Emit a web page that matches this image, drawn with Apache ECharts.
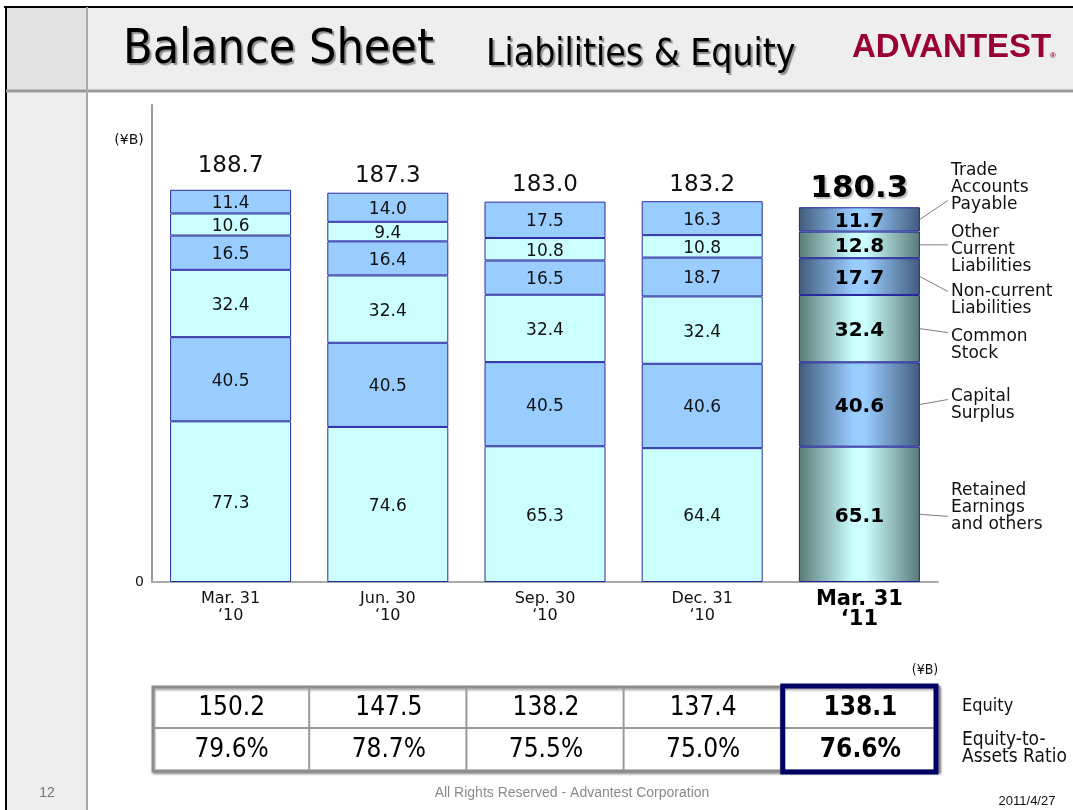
<!DOCTYPE html>
<html>
<head>
<meta charset="utf-8">
<script src="https://cdn.jsdelivr.net/npm/echarts@6/dist/echarts.min.js"></script>
<style>html,body{margin:0;padding:0;background:#fff}#c{width:1073px;height:810px}</style>
</head>
<body>
<div id="c"></div>
<script>
// ---- data ----
const categories = ['Mar. 31\n‘10', 'Jun. 30\n‘10', 'Sep. 30\n‘10', 'Dec. 31\n‘10', 'Mar. 31\n‘11'];
const retainedEarnings = [77.3, 74.6, 65.3, 64.4, 65.1];
const capitalSurplus = [40.5, 40.5, 40.5, 40.6, 40.6];
const commonStock = [32.4, 32.4, 32.4, 32.4, 32.4];
const nonCurrentLiab = [16.5, 16.4, 16.5, 18.7, 17.7];
const otherCurrentLiab = [10.6, 9.4, 10.8, 10.8, 12.8];
const tradePayable = [11.4, 14.0, 17.5, 16.3, 11.7];
const totals = [188.7, 187.3, 183.0, 183.2, 180.3];
const equity = [150.2, 147.5, 138.2, 137.4, 138.1];
const equityRatio = [79.6, 78.7, 75.5, 75.0, 76.6];
const segmentNames = [
  ['Retained', 'Earnings', 'and others'],
  ['Capital', 'Surplus'],
  ['Common', 'Stock'],
  ['Non-current', 'Liabilities'],
  ['Other', 'Current', 'Liabilities'],
  ['Trade', 'Accounts', 'Payable']
];

const FONT = '"DejaVu Sans", Verdana, sans-serif';
const COND = '"DejaVu Sans Condensed", "Liberation Sans Narrow", sans-serif';
const CYAN = '#ccffff', BLUE = '#99ccff';
const CYAN_D = '#587a77', BLUE_D = '#405c7c';
const last = categories.length - 1;

function grad(dark, light) {
  return {type: 'linear', x: 0, y: 0, x2: 1, y2: 0, colorStops: [
    {offset: 0, color: dark}, {offset: 0.45, color: light}, {offset: 0.55, color: light}, {offset: 1, color: dark}]};
}

function mkSeries(name, vals, light, dark) {
  return {
    name, type: 'bar', stack: 'bs', barWidth: 121,
    itemStyle: {color: light, borderColor: '#2b2ba0', borderWidth: 1},
    label: {show: true, position: 'inside', offset: [0, 2], color: '#111', fontSize: 17, fontFamily: FONT,
      formatter: p => Number(p.value).toFixed(1)},
    data: vals.map((v, i) => i === last ? {
      value: v,
      itemStyle: {color: grad(dark, light), borderColor: '#22229a'},
      label: {fontWeight: 'bold', fontSize: 20, color: '#000', textShadowColor: 'rgba(0,0,0,0.18)', textShadowOffsetX: 1, textShadowOffsetY: 1, textShadowBlur: 0}
    } : v)
  };
}

const seriesVals = [retainedEarnings, capitalSurplus, commonStock, nonCurrentLiab, otherCurrentLiab, tradePayable];
const lights = [CYAN, BLUE, CYAN, BLUE, CYAN, BLUE];
const darks = [CYAN_D, BLUE_D, CYAN_D, BLUE_D, CYAN_D, BLUE_D];
const series = seriesVals.map((v, k) => mkSeries(segmentNames[k].join(' '), v, lights[k], darks[k]));

series.push({
  name: 'total', type: 'bar', stack: 'bs', barWidth: 121,
  itemStyle: {color: 'rgba(0,0,0,0)', borderWidth: 0},
  label: {show: true, position: 'top', distance: 5, color: '#111', fontSize: 23, fontFamily: FONT,
    formatter: p => totals[p.dataIndex].toFixed(1)},
  data: totals.map((t, i) => i === last ? {value: 0, label: {fontWeight: 'bold', fontSize: 31, color: '#000', distance: 3,
      textShadowColor: 'rgba(0,0,0,0.25)', textShadowOffsetX: 2, textShadowOffsetY: 2, textShadowBlur: 1}}
    : (i === 0 ? {value: 0, label: {distance: 12}} : 0))
});

const chart = echarts.init(document.getElementById('c'), null, {renderer: 'canvas'});
const option = {
  backgroundColor: '#ffffff',
  animation: false,
  grid: {left: 152, top: 105, width: 786, height: 477, containLabel: false},
  xAxis: {
    type: 'category', data: categories,
    axisLine: {lineStyle: {color: '#aaaaaa', width: 2}},
    axisTick: {show: false},
    axisLabel: {
      margin: 8, color: '#111', fontSize: 16, lineHeight: 17, fontFamily: FONT,
      formatter: (v, i) => i === last ? '{b|' + v.split('\n').join('}\n{b|') + '}' : v,
      rich: {b: {fontWeight: 'bold', fontSize: 21, lineHeight: 20, color: '#000', fontFamily: FONT,
        textShadowColor: 'rgba(0,0,0,0.2)', textShadowOffsetX: 1, textShadowOffsetY: 1, textShadowBlur: 0}}
    }
  },
  yAxis: {
    type: 'value', min: 0, max: 229.5, interval: 229.5,
    axisLine: {show: true, lineStyle: {color: '#999999', width: 2}},
    axisTick: {show: false}, splitLine: {show: false},
    axisLabel: {margin: 8, color: '#111', fontSize: 14, fontFamily: FONT, formatter: v => v === 0 ? '0' : ''}
  },
  series
};
chart.setOption(option);

// ---- graphics: slide frame, header, annotations, table ----
const g = [];
function txt(text, x, y, font, fill, align, valign, extra) {
  g.push({type: 'text', silent: true, z: 100, style: Object.assign({text, x, y, font, fill,
    textAlign: align, align: align, textVerticalAlign: valign, verticalAlign: valign}, extra || {})});
}
function line(x1, y1, x2, y2, stroke, lw, z) {
  g.push({type: 'line', silent: true, z: z || 90, shape: {x1, y1, x2, y2}, style: {stroke, lineWidth: lw}});
}
function rect(x, y, w, h, style, z) {
  g.push({type: 'rect', silent: true, z: z || 1, shape: {x, y, width: w, height: h}, style});
}

// frame
rect(6, 7, 81, 803, {fill: '#eeeeee'}, 0);
rect(6, 7, 1067, 84, {fill: '#eeeeee'}, 0);
rect(6, 7, 81, 84, {fill: '#e3e3e3'}, 0);
line(4, 7, 1073, 7, '#000', 2);
line(6, 7, 6, 810, '#000', 2);
line(6, 91, 1073, 91, '#9a9a9a', 3);
line(87, 7, 87, 810, '#a8a8a8', 2);

const shadow = {textShadowColor: 'rgba(0,0,0,0.4)', textShadowOffsetX: 2, textShadowOffsetY: 2, textShadowBlur: 1};
txt('Balance Sheet', 123, 51, '48px ' + COND, '#000', 'left', 'middle', shadow);
txt('Liabilities & Equity', 486, 55, '37px ' + COND, '#000', 'left', 'middle', shadow);
txt('ADVANTEST', 852, 48, 'bold 33px "Liberation Sans", Arial, sans-serif', '#990033', 'left', 'middle');
txt('®', 1050, 56, 'bold 8px "Liberation Sans", Arial, sans-serif', '#990033', 'left', 'middle');

// unit
txt('(¥B)', 129, 140, '14px ' + FONT, '#111', 'center', 'middle');

// annotations for last bar
const barHalf = 60.5;
const annot = [ // [textTopOffset, lineEndOffset] relative to segment middle
  [-33, 2], [-17, -5], [-2, 4], [6, 15], [-22, 0], [-58, -19]
];
let cum = 0;
seriesVals.forEach((vals, k) => {
  const v = vals[last];
  const mid = chart.convertToPixel({gridIndex: 0}, [last, cum + v / 2]);
  cum += v;
  const xr = mid[0] + barHalf;
  const ym = mid[1];
  line(xr, ym, 948, ym + annot[k][1], '#808080', 1);
  txt(segmentNames[k].join('\n'), 951, ym + annot[k][0] + 1, '17px ' + FONT, '#111', 'left', 'top', {lineHeight: 17});
});

// table
const rowTop = 687, rowMid = 728, rowBot = 770;
const cw = chart.convertToPixel({gridIndex: 0}, [1, 0])[0] - chart.convertToPixel({gridIndex: 0}, [0, 0])[0];
const c0 = chart.convertToPixel({gridIndex: 0}, [0, 0])[0] - cw / 2;
const cEnd = c0 + cw * categories.length;
rect(c0 + 1, rowTop, cEnd - c0, rowBot - rowTop + 1, {fill: '#fff', stroke: '#8c8c8c', lineWidth: 3,
  shadowColor: 'rgba(0,0,0,0.3)', shadowOffsetX: 1, shadowOffsetY: 2, shadowBlur: 2}, 5);
line(c0 + 1, rowMid, cEnd, rowMid, '#9a9a9a', 2, 6);
for (let i = 1; i < categories.length; i++) line(c0 + cw * i, rowTop, c0 + cw * i, rowBot, '#9a9a9a', 2, 6);
const lx = c0 + cw * last;
rect(lx + 2, rowTop - 1, cw - 4, rowBot - rowTop + 3, {fill: 'none', stroke: '#000066', lineWidth: 5}, 7);
categories.forEach((c, i) => {
  const cx = chart.convertToPixel({gridIndex: 0}, [i, 0])[0] + 1;
  const b = i === last ? 'bold ' : '';
  txt(equity[i].toFixed(1), cx, (rowTop + rowMid) / 2 + 1, b + '26px ' + COND, '#000', 'center', 'middle');
  txt(equityRatio[i].toFixed(1) + '%', cx, (rowMid + rowBot) / 2 + 1, b + '26px ' + COND, '#000', 'center', 'middle');
});
txt('(¥B)', 925, 670, '14px ' + COND, '#111', 'center', 'middle');
txt('Equity', 962, 706, '18px ' + COND, '#111', 'left', 'middle');
txt('Equity-to-\nAssets Ratio', 962, 749, '19px ' + COND, '#111', 'left', 'middle', {lineHeight: 17});

// footer
txt('12', 47, 793, '14px "Liberation Sans", Arial, sans-serif', '#777', 'center', 'middle');
txt('All Rights Reserved - Advantest Corporation', 572, 793, '14px "Liberation Sans", Arial, sans-serif', '#8a8a8a', 'center', 'middle');
txt('2011/4/27', 1027, 801, '13px "Liberation Sans", Arial, sans-serif', '#111', 'center', 'middle');

chart.setOption({graphic: {elements: g}});
</script>
</body>
</html>
